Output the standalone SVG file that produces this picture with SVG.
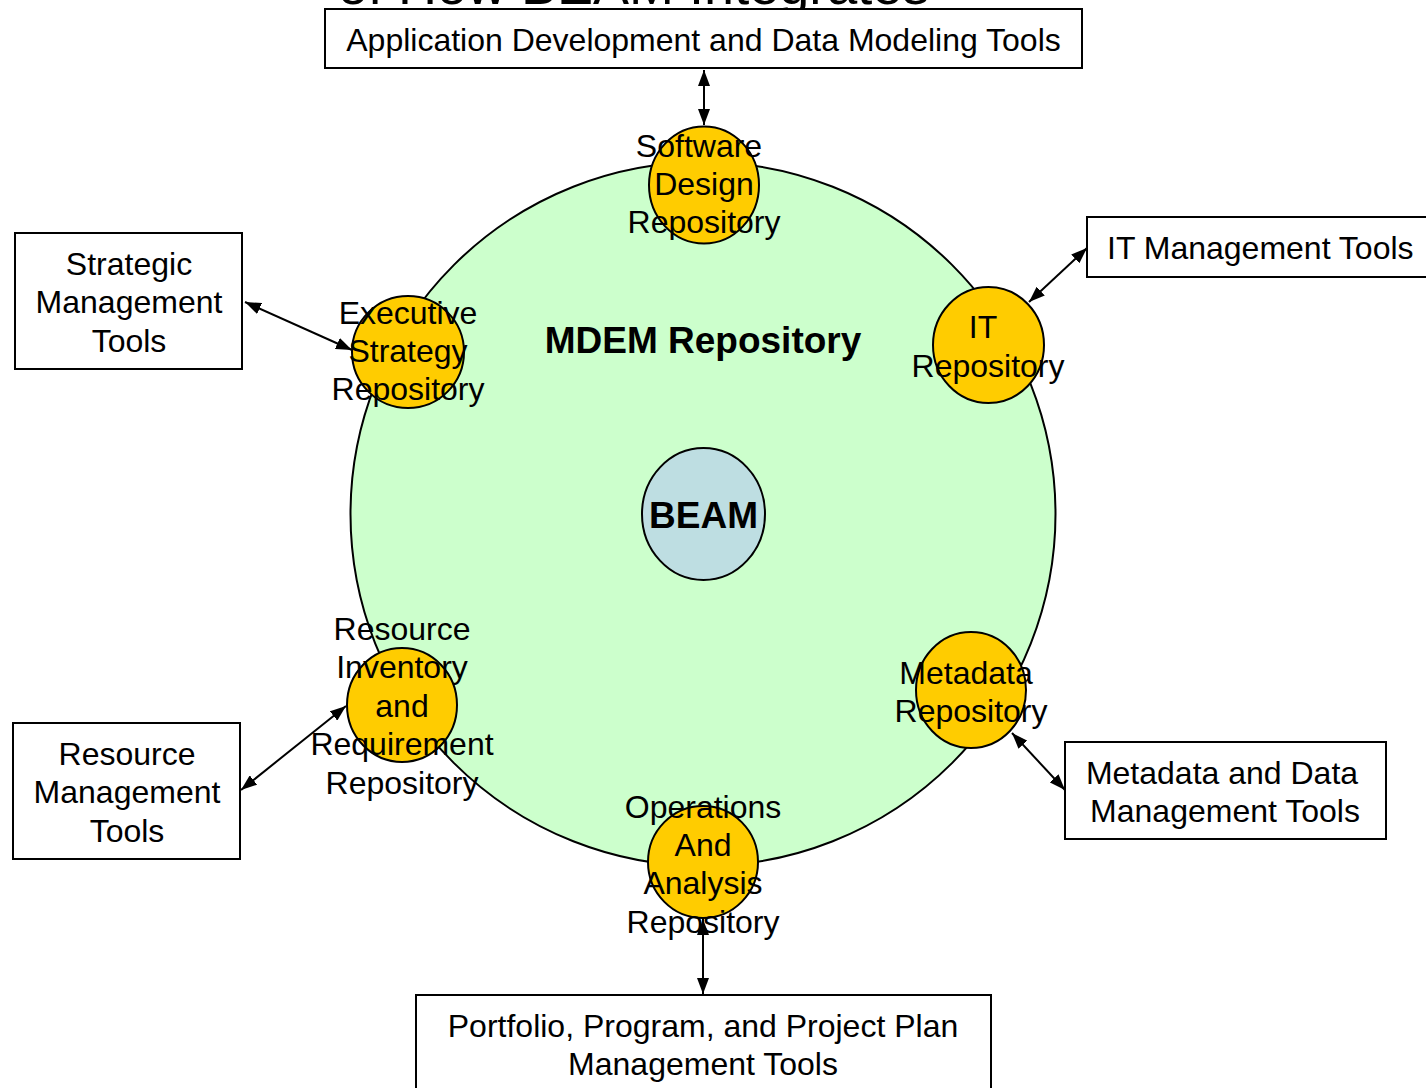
<svg xmlns="http://www.w3.org/2000/svg" width="1426" height="1088" viewBox="0 0 1426 1088">
<defs>
<style>
text{font-family:"Liberation Sans",Arial,sans-serif;fill:#000}
.lbl{font-size:32px;text-anchor:middle}
.bold{font-size:37px;font-weight:bold;text-anchor:middle}
.box{fill:#fff;stroke:#000;stroke-width:2}
.repo{fill:#FFCC00;stroke:#000;stroke-width:2}
.conn{stroke:#000;stroke-width:2;fill:none;marker-start:url(#ah);marker-end:url(#ah)}
</style>
<marker id="ah" viewBox="0 0 16 12" refX="16" refY="6" markerWidth="16" markerHeight="12" markerUnits="userSpaceOnUse" orient="auto-start-reverse">
<path d="M0,0 L16,6 L0,12 z" fill="#000"/>
</marker>
</defs>
<rect width="1426" height="1088" fill="#fff"/>
<text x="338" y="4" style="font-size:54px">of How BEAM Integrates</text>

<g id="mdem">
<ellipse cx="703" cy="514" rx="352.5" ry="352" fill="#CCFFCC" stroke="#000" stroke-width="2"/>
<text class="bold" x="703" y="353">MDEM Repository</text>
</g>
<g id="beam">
<ellipse cx="703.5" cy="514" rx="61.5" ry="66" fill="#BEDEE2" stroke="#000" stroke-width="2"/>
<text class="bold" x="703.5" y="528">BEAM</text>
</g>

<g id="connectors">
<line class="conn" x1="704" y1="70" x2="704" y2="125"/>
<line class="conn" x1="245" y1="302" x2="352" y2="350"/>
<line class="conn" x1="1087" y1="248" x2="1029" y2="302"/>
<line class="conn" x1="1012" y1="733" x2="1065" y2="790"/>
<line class="conn" x1="346" y1="706" x2="241" y2="790"/>
<line class="conn" x1="703" y1="919" x2="703" y2="994"/>
</g>

<g id="software-design">
<ellipse class="repo" cx="704" cy="185" rx="55" ry="58.5"/>
<text class="lbl"><tspan x="699" y="157">Software</tspan><tspan x="704" y="195">Design</tspan><tspan x="704" y="233">Repository</tspan></text>
</g>
<g id="executive-strategy">
<ellipse class="repo" cx="408" cy="352" rx="56" ry="56"/>
<text class="lbl"><tspan x="408" y="324">Executive</tspan><tspan x="408" y="362">Strategy</tspan><tspan x="408" y="400">Repository</tspan></text>
</g>
<g id="it-repository">
<ellipse class="repo" cx="988.5" cy="345" rx="55.5" ry="58"/>
<text class="lbl"><tspan x="983" y="338">IT</tspan><tspan x="988" y="377">Repository</tspan></text>
</g>
<g id="metadata-repository">
<ellipse class="repo" cx="971" cy="690" rx="55" ry="58"/>
<text class="lbl"><tspan x="966" y="684">Metadata</tspan><tspan x="971" y="722">Repository</tspan></text>
</g>
<g id="operations-analysis">
<ellipse class="repo" cx="703" cy="862" rx="55" ry="56"/>
<text class="lbl"><tspan x="703" y="818">Operations</tspan><tspan x="703" y="856">And</tspan><tspan x="703" y="894">Analysis</tspan><tspan x="703" y="933">Repository</tspan></text>
</g>
<g id="resource-inventory">
<ellipse class="repo" cx="402" cy="705" rx="55" ry="57"/>
<text class="lbl"><tspan x="402" y="640">Resource</tspan><tspan x="402" y="678">Inventory</tspan><tspan x="402" y="717">and</tspan><tspan x="402" y="755">Requirement</tspan><tspan x="402" y="794">Repository</tspan></text>
</g>

<g id="app-dev-tools">
<rect class="box" x="325" y="9" width="757" height="59"/>
<text class="lbl" x="703.5" y="51">Application Development and Data Modeling Tools</text>
</g>
<g id="strategic-tools">
<rect class="box" x="15" y="233" width="227" height="136"/>
<text class="lbl"><tspan x="129" y="275">Strategic</tspan><tspan x="129" y="313">Management</tspan><tspan x="129" y="352">Tools</tspan></text>
</g>
<g id="it-tools">
<rect class="box" x="1087" y="217" width="350" height="60"/>
<text x="1107" y="259" style="font-size:32px">IT Management Tools</text>
</g>
<g id="resource-tools">
<rect class="box" x="13" y="723" width="227" height="136"/>
<text class="lbl"><tspan x="127" y="765">Resource</tspan><tspan x="127" y="803">Management</tspan><tspan x="127" y="842">Tools</tspan></text>
</g>
<g id="metadata-tools">
<rect class="box" x="1065" y="742" width="321" height="97"/>
<text class="lbl"><tspan x="1222" y="784">Metadata and Data</tspan><tspan x="1225" y="822">Management Tools</tspan></text>
</g>
<g id="portfolio-tools">
<rect class="box" x="416" y="995" width="575" height="110"/>
<text class="lbl"><tspan x="703" y="1037">Portfolio, Program, and Project Plan</tspan><tspan x="703" y="1075">Management Tools</tspan></text>
</g>
</svg>
